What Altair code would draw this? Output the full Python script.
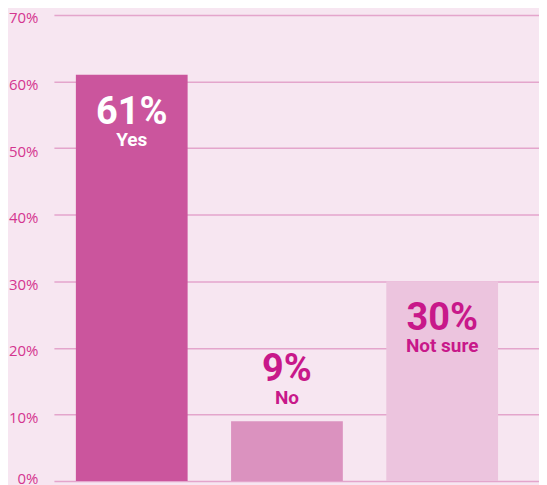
import altair as alt
import pandas as pd

categories = ["Yes", "No", "Not sure"]
values = [61, 9, 30]
pct_labels = ["61%", "9%", "30%"]
bar_colors = ["#cb559d", "#db92bf", "#ecc4de"]
text_colors = ["#ffffff", "#c8188a", "#c8188a"]
inside = [True, False, True]
y_ticks = [0, 10, 20, 30, 40, 50, 60, 70]

df = pd.DataFrame({
    "category": categories,
    "value": values,
    "pct": pct_labels,
    "inside": inside,
})

x = alt.X("category:N", sort=categories,
          scale=alt.Scale(paddingInner=0.28, paddingOuter=0.2027, align=0.349),
          axis=None)
y = alt.Y("value:Q",
          scale=alt.Scale(domain=[0, 70], nice=False),
          axis=alt.Axis(values=y_ticks, title=None, labelExpr="datum.value + '%'",
                        domain=False, ticks=False, grid=True,
                        gridColor="#e4a5cc", gridWidth=1.5,
                        labelColor="#d4358f", labelFont="Open Sans", labelFontSize=15,
                        labelPadding=16,
                        labelOffset={"condition": {"test": "datum.value === 0", "value": -3}, "value": 3}))

base = alt.Chart(df)

bars = base.mark_bar().encode(
    x=x, y=y,
    color=alt.Color("category:N", scale=alt.Scale(domain=categories, range=bar_colors), legend=None),
)

tcolor = alt.Color("category:N", scale=alt.Scale(domain=categories, range=text_colors), legend=None)
font = "Roboto"

in_big = base.transform_filter("datum.inside").mark_text(
    font=font, fontWeight="bold", fontSize=38, baseline="alphabetic", dy=49
).encode(x=x, y="value:Q", text="pct:N", color=tcolor)
in_small = base.transform_filter("datum.inside").mark_text(
    font=font, fontWeight="bold", fontSize=19, baseline="alphabetic", dy=71
).encode(x=x, y="value:Q", text="category:N", color=tcolor)
out_big = base.transform_filter("!datum.inside").mark_text(
    font=font, fontWeight="bold", fontSize=38, baseline="alphabetic", dy=-40
).encode(x=x, y="value:Q", text="pct:N", color=tcolor)
out_small = base.transform_filter("!datum.inside").mark_text(
    font=font, fontWeight="bold", fontSize=19, baseline="alphabetic", dy=-17
).encode(x=x, y="value:Q", text="category:N", color=tcolor)

texts = alt.layer(in_big, in_small, out_big, out_small)

chart = alt.layer(bars, texts).resolve_scale(color="independent").properties(
    width=486, height=467, background="#f7e6f1",
    padding={"top": 2.5, "left": 0, "right": 0, "bottom": 0},
).configure_view(stroke=None)

chart.save("out.html", embed_options={"renderer": "svg", "actions": False})
